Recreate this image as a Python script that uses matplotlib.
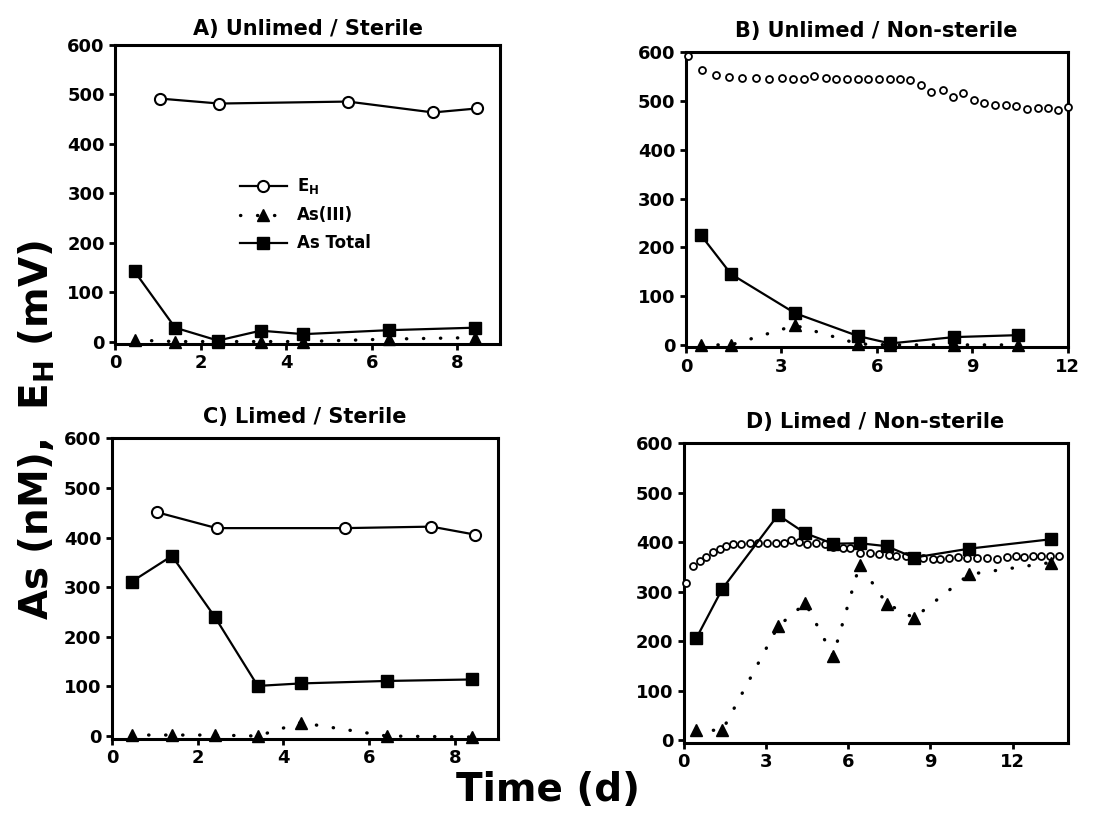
import matplotlib
matplotlib.use("Agg")
import matplotlib.pyplot as plt

plt.rcParams['font.family'] = ['DejaVu Sans']
plt.rcParams['font.weight'] = 'bold'

# A) Unlimed / Sterile
a_eh_t = [1.05, 2.43, 5.44, 7.43, 8.45]
a_eh = [491, 481, 485, 463, 471]
a_t = [0.45, 1.4, 2.4, 3.4, 4.4, 6.4, 8.4]
a_as3 = [3, 0, 0, 0, 0, 5, 8]
a_astot = [142, 28, 2, 22, 15, 23, 28]

# B) Unlimed / Non-sterile
b_eh_t = [0.05, 0.52, 0.93, 1.35, 1.77, 2.19, 2.61, 3.03, 3.37, 3.72, 4.03,
          4.39, 4.71, 5.05, 5.40, 5.73, 6.07, 6.42, 6.73, 7.04, 7.38, 7.70,
          8.07, 8.39, 8.72, 9.07, 9.38, 9.72, 10.05, 10.38, 10.72, 11.06,
          11.40, 11.71, 12.02]
b_eh = [591, 563, 553, 550, 546, 546, 544, 546, 544, 544, 551,
        546, 544, 544, 544, 544, 545, 544, 544, 543, 533, 519,
        523, 508, 517, 501, 495, 492, 492, 489, 484, 485,
        485, 482, 488]
b_t = [0.47, 1.42, 3.43, 5.42, 6.42, 8.44, 10.45]
b_as3 = [0, 0, 40, 2, 0, 0, 0]
b_astot = [225, 145, 65, 18, 3, 16, 20]

# C) Limed / Sterile
c_eh_t = [1.05, 2.44, 5.43, 7.45, 8.46]
c_eh = [451, 419, 419, 422, 406]
c_t = [0.46, 1.4, 2.4, 3.4, 4.4, 6.41, 8.4]
c_as3 = [2, 2, 2, 0, 27, 0, -2]
c_astot = [311, 363, 240, 101, 106, 111, 114]

# D) Limed / Non-sterile
d_eh_t = [0.07, 0.34, 0.58, 0.83, 1.07, 1.31, 1.56, 1.80, 2.10, 2.41, 2.71,
          3.02, 3.38, 3.65, 3.93, 4.21, 4.48, 4.82, 5.15, 5.43, 5.81, 6.08,
          6.42, 6.79, 7.13, 7.49, 7.76, 8.10, 8.47, 8.73, 9.08, 9.34, 9.68,
          10.01, 10.32, 10.68, 11.05, 11.41, 11.78, 12.12, 12.42, 12.73,
          13.05, 13.36, 13.69]
d_eh = [318, 352, 362, 371, 380, 387, 393, 396, 397, 398, 399,
        399, 398, 399, 404, 401, 397, 398, 396, 390, 389, 388,
        379, 379, 377, 374, 373, 372, 370, 369, 367, 367, 369,
        370, 369, 369, 369, 367, 371, 373, 371, 373,
        373, 372, 373]
d_t = [0.46, 1.41, 3.44, 4.44, 5.45, 6.42, 7.40, 8.40, 10.41, 13.39]
d_as3 = [20, 20, 230, 277, 170, 355, 276, 247, 335, 359]
d_astot = [206, 306, 455, 418, 397, 398, 392, 369, 387, 406]

titles = ['A) Unlimed / Sterile', 'B) Unlimed / Non-sterile',
          'C) Limed / Sterile', 'D) Limed / Non-sterile']

# dotted line for As(III): round dots, wide gaps
DOT = (0, (0.1, 5))


def style_axes(ax, xmax, xticks):
    ax.set_xlim(0, xmax)
    ax.set_ylim(-5, 600)
    ax.set_xticks(xticks)
    ax.set_yticks(range(0, 601, 100))
    for s in ax.spines.values():
        s.set_linewidth(2.2)
    ax.tick_params(direction='out', length=4, width=2, labelsize=13)
    for lab in ax.get_xticklabels() + ax.get_yticklabels():
        lab.set_fontweight('bold')


def draw_panel(ax, title, eh_t, eh, t, as3, astot, eh_line=True, pad=11):
    if eh_line:
        ax.plot(eh_t, eh, '-o', color='black', mfc='white', mec='black',
                ms=8, mew=1.5, lw=1.6, label='E$_\\mathbf{H}$', clip_on=False, zorder=3)
    else:
        ax.plot(eh_t, eh, 'o', color='black', mfc='white', mec='black',
                ms=5, mew=1.3, label='E$_\\mathbf{H}$', clip_on=False, zorder=3)
    ax.plot(t, as3, linestyle=DOT, marker='^', color='black', ms=9, lw=2.4,
            dash_capstyle='round', label='As(III)', clip_on=False, zorder=4)
    ax.plot(t, astot, '-s', color='black', ms=9, lw=1.6,
            label='As Total', clip_on=False, zorder=5)
    ax.set_title(title, fontsize=15, fontweight='bold', pad=pad)


fig = plt.figure(figsize=(11.19, 8.27), dpi=100)

ax_a = fig.add_axes([0.103, 0.584, 0.344, 0.362])
ax_b = fig.add_axes([0.613, 0.580, 0.341, 0.357])
ax_c = fig.add_axes([0.100, 0.107, 0.345, 0.363])
ax_d = fig.add_axes([0.611, 0.102, 0.343, 0.362])

draw_panel(ax_a, titles[0], a_eh_t, a_eh, a_t, a_as3, a_astot, pad=7)
style_axes(ax_a, 9, [0, 2, 4, 6, 8])
draw_panel(ax_b, titles[1], b_eh_t, b_eh, b_t, b_as3, b_astot, eh_line=False)
style_axes(ax_b, 12, [0, 3, 6, 9, 12])
draw_panel(ax_c, titles[2], c_eh_t, c_eh, c_t, c_as3, c_astot)
style_axes(ax_c, 9, [0, 2, 4, 6, 8])
draw_panel(ax_d, titles[3], d_eh_t, d_eh, d_t, d_as3, d_astot, eh_line=False)
style_axes(ax_d, 14, [0, 3, 6, 9, 12])

leg = ax_a.legend(loc='upper left', bbox_to_anchor=(0.285, 0.61), frameon=False,
                  handlelength=2.8, handletextpad=0.6, labelspacing=0.6,
                  prop={'size': 12, 'weight': 'bold'})

fig.text(0.033, 0.48, 'As (nM),  E$_\\mathbf{H}$ (mV)', rotation=90,
         ha='center', va='center', fontsize=28, fontweight='bold')
fig.text(0.49, 0.045, 'Time (d)', ha='center', va='center',
         fontsize=28, fontweight='bold')

fig.savefig('out.png', dpi=100)
